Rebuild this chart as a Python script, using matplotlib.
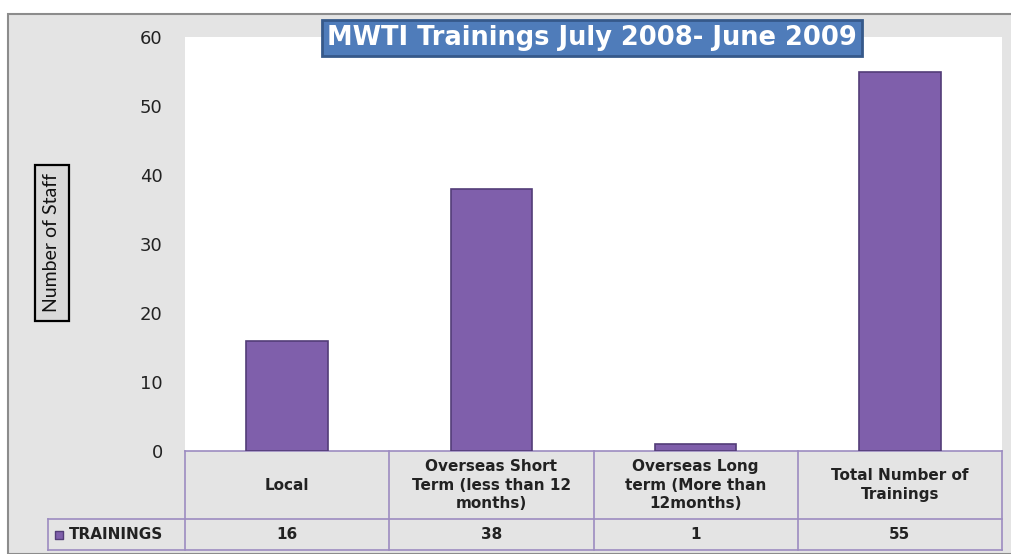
import matplotlib
matplotlib.use("Agg")
import matplotlib.pyplot as plt
from matplotlib.patches import Rectangle
from matplotlib.transforms import blended_transform_factory

categories = ["Local", "Overseas Short\nTerm (less than 12\nmonths)",
              "Overseas Long\nterm (More than\n12months)", "Total Number of\nTrainings"]
trainings = [16, 38, 1, 55]
series_name = "TRAININGS"
y_ticks = [0, 10, 20, 30, 40, 50, 60]

W, H = 1012, 554
fig = plt.figure(figsize=(W / 100, H / 100), dpi=100)
fig.patch.set_facecolor("white")

# outer chart area (grey, framed)
fig.patches.append(Rectangle((8 / W, 0), 1.0, (H - 14) / H, transform=fig.transFigure,
                             facecolor="#e4e4e4", edgecolor="#8c8c8c", lw=1.5, zorder=-1))

ax = fig.add_axes([185 / W, (H - 451) / H, 817 / W, 414 / H])
ax.set_zorder(1)
ax.set_facecolor("white")
for s in ax.spines.values():
    s.set_visible(False)

x = range(len(trainings))
ax.bar(x, trainings, width=0.4, color="#7f5fab", edgecolor="#533d78", linewidth=1.2, zorder=3)
ax.set_xlim(-0.5, len(trainings) - 0.5)
ax.set_ylim(0, 60)
ax.set_yticks(y_ticks)
ax.set_xticks([])
ax.tick_params(axis="y", length=0, pad=16, labelsize=13, labelcolor="#222222")

# data table under the plot
tr = blended_transform_factory(ax.transData, ax.transAxes)
lc = "#9c8cc0"
y_top, y_mid, y_bot = 0.0, -68 / 414, -99 / 414
x_left = -0.5 - 137 / 204.25
ax.plot([-0.5, 3.5], [y_top, y_top], color=lc, lw=1.2, transform=tr, clip_on=False)
ax.plot([x_left, 3.5], [y_mid, y_mid], color=lc, lw=1.2, transform=tr, clip_on=False)
ax.plot([x_left, 3.5], [y_bot, y_bot], color=lc, lw=1.2, transform=tr, clip_on=False)
ax.plot([x_left, x_left], [y_mid, y_bot], color=lc, lw=1.2, transform=tr, clip_on=False)
for b in [-0.5, 0.5, 1.5, 2.5, 3.5]:
    ax.plot([b, b], [y_top, y_bot], color=lc, lw=1.2, transform=tr, clip_on=False)

for i, (cat, v) in enumerate(zip(categories, trainings)):
    ax.text(i, (y_top + y_mid) / 2, cat, transform=tr, ha="center", va="center",
            fontsize=11, fontweight="bold", color="#222222", linespacing=1.3)
    ax.text(i, (y_mid + y_bot) / 2, str(v), transform=tr, ha="center", va="center",
            fontsize=11, fontweight="bold", color="#222222")

ax.scatter([x_left + 0.055], [(y_mid + y_bot) / 2], marker="s", s=30, color="#7f5fab",
           edgecolor="#533d78", transform=tr, clip_on=False)
ax.text(x_left + 0.1, (y_mid + y_bot) / 2, series_name, transform=tr, ha="left", va="center",
        fontsize=11, fontweight="bold", color="#222222")

# y axis title in a box
fig.text(52 / W, 1 - 243 / H, "Number of Staff", rotation=90, ha="center", va="center",
         fontsize=14, family="Lato", color="#111111",
         bbox=dict(boxstyle="square,pad=0.45", facecolor="#d9d9d9", edgecolor="black", lw=1.6))

# title in a blue box
fig.text(592 / W, 1 - 38 / H, "MWTI Trainings July 2008- June 2009", ha="center", va="center",
         fontsize=18.5, fontweight="bold", color="white", zorder=5,
         bbox=dict(boxstyle="square,pad=0.2", facecolor="#4f7cba", edgecolor="#36598a", lw=2))

fig.savefig("out.png", dpi=100)
